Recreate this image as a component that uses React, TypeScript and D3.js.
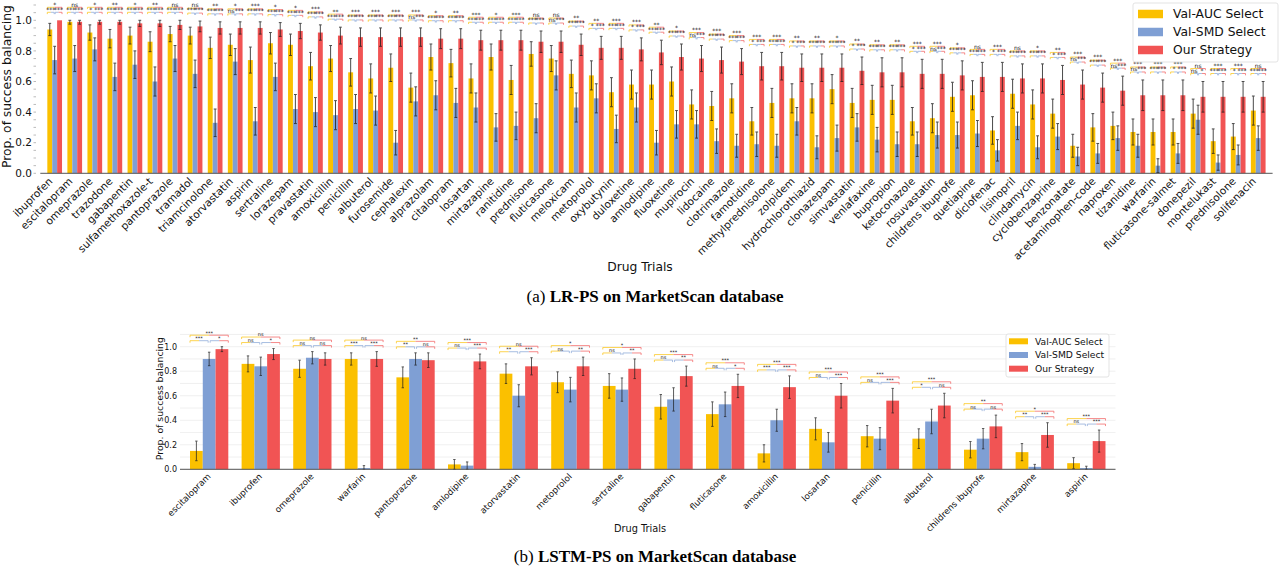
import React from "react";
import * as d3 from "d3";

const SERIES = ["Val-AUC Select", "Val-SMD Select", "Our Strategy"];
const COLORS = ["#fbc000", "#7f9fd4", "#f15454"];

// ---------- (a) LR-PS ----------
const lrDrugs = ["ibuprofen","escitalopram","omeprazole","trazodone","gabapentin","sulfamethoxazole-t","pantoprazole","tramadol","triamcinolone","atorvastatin","aspirin","sertraline","lorazepam","pravastatin","amoxicillin","penicillin","albuterol","furosemide","cephalexin","alprazolam","citalopram","losartan","mirtazapine","ranitidine","prednisone","fluticasone","meloxicam","metoprolol","oxybutynin","duloxetine","amlodipine","fluoxetine","mupirocin","lidocaine","clotrimazole","famotidine","methylprednisolone","zolpidem","hydrochlorothiazid","clonazepam","simvastatin","venlafaxine","bupropion","ketoconazole","rosuvastatin","childrens ibuprofe","quetiapine","diclofenac","lisinopril","clindamycin","cyclobenzaprine","benzonatate","acetaminophen-code","naproxen","tizanidine","warfarin","fluticasone-salmet","donepezil","montelukast","prednisolone","solifenacin"];
const lrAuc = [0.94,0.99,0.92,0.88,0.90,0.86,0.91,0.90,0.82,0.84,0.74,0.85,0.84,0.70,0.75,0.66,0.62,0.69,0.56,0.76,0.72,0.62,0.76,0.61,0.78,0.75,0.65,0.64,0.53,0.58,0.58,0.60,0.45,0.44,0.49,0.34,0.46,0.49,0.49,0.55,0.46,0.48,0.48,0.34,0.36,0.50,0.51,0.28,0.52,0.45,0.39,0.18,0.30,0.31,0.27,0.27,0.27,0.39,0.21,0.24,0.41];
const lrSmd = [0.74,0.75,0.81,0.63,0.71,0.60,0.75,0.65,0.33,0.73,0.34,0.63,0.42,0.40,0.38,0.42,0.41,0.20,0.47,0.51,0.46,0.43,0.30,0.31,0.36,0.64,0.43,0.49,0.29,0.43,0.20,0.32,0.32,0.21,0.18,0.19,0.18,0.34,0.17,0.23,0.30,0.22,0.19,0.19,0.25,0.25,0.26,0.15,0.31,0.17,0.24,0.11,0.13,0.23,0.18,0.05,0.13,0.35,0.07,0.12,0.23];
const lrOurs = [1.00,0.99,0.99,0.99,0.98,0.98,0.97,0.96,0.95,0.95,0.95,0.94,0.93,0.92,0.90,0.89,0.89,0.89,0.89,0.88,0.88,0.87,0.87,0.87,0.86,0.86,0.84,0.82,0.82,0.81,0.79,0.76,0.75,0.74,0.73,0.70,0.70,0.69,0.69,0.69,0.67,0.66,0.66,0.65,0.65,0.64,0.63,0.63,0.62,0.62,0.61,0.58,0.56,0.54,0.51,0.51,0.51,0.50,0.50,0.50,0.50];
const lrAucErr = [0.04,0.015,0.05,0.06,0.055,0.065,0.05,0.055,0.07,0.07,0.085,0.07,0.07,0.09,0.085,0.09,0.095,0.09,0.095,0.085,0.09,0.095,0.085,0.095,0.08,0.085,0.09,0.095,0.095,0.095,0.095,0.095,0.095,0.095,0.095,0.09,0.095,0.095,0.095,0.095,0.095,0.095,0.095,0.09,0.095,0.095,0.095,0.09,0.095,0.095,0.095,0.075,0.09,0.09,0.085,0.085,0.085,0.095,0.08,0.085,0.095];
const lrSmdErr = [0.09,0.085,0.075,0.09,0.09,0.095,0.085,0.09,0.09,0.085,0.09,0.09,0.095,0.095,0.095,0.095,0.095,0.08,0.095,0.095,0.095,0.095,0.09,0.09,0.095,0.095,0.095,0.095,0.09,0.095,0.08,0.09,0.09,0.08,0.075,0.08,0.075,0.09,0.075,0.085,0.09,0.08,0.08,0.08,0.085,0.085,0.085,0.07,0.09,0.075,0.085,0.06,0.065,0.08,0.075,0.045,0.065,0.095,0.05,0.065,0.08];
const lrOursErr = [0,0.015,0.015,0.015,0.02,0.02,0.03,0.035,0.04,0.04,0.04,0.045,0.05,0.05,0.055,0.06,0.06,0.06,0.06,0.065,0.065,0.065,0.065,0.065,0.07,0.07,0.07,0.075,0.075,0.075,0.08,0.085,0.085,0.085,0.085,0.09,0.09,0.09,0.09,0.09,0.09,0.095,0.095,0.095,0.095,0.095,0.095,0.095,0.095,0.095,0.095,0.095,0.095,0.095,0.1,0.1,0.1,0.1,0.1,0.1,0.1];
const lrSigTop = ["*","ns","*","**","*","**","ns","ns","**","*","***","*","*","***","**","***","***","***","***","*","**","***","*","***","ns","ns","**","**","***","***","**","*","***","***","***","***","***","**","**","*","**","**","**","***","***","*","ns","***","ns","*","**","***","***","***","***","***","***","ns","***","***","ns"];
const lrSigLeft = ["***","***","*","***","***","***","***","***","***","ns","***","***","***","***","***","***","***","***","ns","***","***","***","***","***","***","ns","***","*","***","*","***","***","ns","***","***","*","***","*","***","***","*","***","***","*","ns","***","***","*","***","***","*","ns","***","ns","ns","***","*","ns","***","*","***"];
const lrSigRight = ["***","***","***","***","***","***","***","***","***","***","***","***","***","***","***","***","***","***","***","***","***","***","***","***","***","***","***","***","***","***","***","***","***","***","***","***","***","***","***","***","***","***","***","***","***","***","***","***","***","***","***","***","***","***","***","***","***","*","***","***","***"];

// ---------- (b) LSTM-PS ----------
const lstmDrugs = ["escitalopram","ibuprofen","omeprazole","warfarin","pantoprazole","amlodipine","atorvastatin","metoprolol","sertraline","gabapentin","fluticasone","amoxicillin","losartan","penicillin","albuterol","childrens ibuprofe","mirtazapine","aspirin"];
const lstmAuc = [0.15,0.86,0.82,0.90,0.75,0.04,0.78,0.71,0.68,0.51,0.45,0.13,0.33,0.27,0.25,0.16,0.14,0.05];
const lstmSmd = [0.90,0.84,0.91,0.01,0.90,0.03,0.60,0.65,0.65,0.57,0.53,0.40,0.22,0.25,0.39,0.25,0.02,0.01];
const lstmOurs = [0.98,0.94,0.90,0.90,0.89,0.88,0.84,0.84,0.82,0.76,0.68,0.67,0.60,0.56,0.52,0.35,0.28,0.23];
const lstmAucErr = [0.08,0.065,0.07,0.05,0.085,0.04,0.08,0.085,0.1,0.1,0.1,0.07,0.09,0.087,0.08,0.067,0.07,0.045];
const lstmSmdErr = [0.055,0.075,0.05,0.02,0.05,0.03,0.09,0.1,0.095,0.095,0.1,0.09,0.08,0.09,0.1,0.083,0.02,0.015];
const lstmOursErr = [0.02,0.045,0.05,0.06,0.06,0.06,0.07,0.075,0.08,0.082,0.095,0.092,0.1,0.1,0.1,0.092,0.1,0.09];
const lstmSigTop = ["***","ns","ns","ns","**","***","ns","*","*","***","***","***","***","***","***","**","*","***"];
const lstmSigLeft = ["***","ns","ns","***","**","ns","**","ns","ns","ns","ns","***","ns","ns","*","ns","**","ns"];
const lstmSigRight = ["*","*","ns","***","ns","***","***","**","**","**","*","***","***","***","ns","ns","***","***"];

const yTicks = [0, 0.2, 0.4, 0.6, 0.8, 1.0];

const SANS = "DejaVu Sans, sans-serif";
const SERIF = "Liberation Serif, Times New Roman, serif";

type Cfg = {
  A: number; B: number; pIn: number; pOut: number;
  yZero: number; yOne: number; axTop: number;
  tickFont: number; tickX: number;
  xlFont: number; xlDx: number; xlY: number;
  ylFont: number; ylX: number;
  sigFont: number; lowGap: number; topGap: number; tickH: number; brGap: number;
  capW: number; errW: number;
  grid: boolean; minor: boolean;
  xTitleX: number; xTitleY: number; xTitleFont: number;
  legend: { x: number; y: number; w: number; h: number; px: number; pw: number; ph: number; ys: number[]; tx: number; font: number };
  caption: { y: number; label: string; title: string; font: number };
};

function Chart({ cfg, drugs, vals, errs, sigs }: { cfg: Cfg; drugs: string[]; vals: number[][]; errs: number[][]; sigs: string[][] }) {
  const x = d3.scaleBand<string>().domain(drugs).range([cfg.A, cfg.B]).paddingInner(cfg.pIn).paddingOuter(cfg.pOut);
  const xs = d3.scaleBand<number>().domain([0, 1, 2]).range([0, x.bandwidth()]);
  const y = d3.scaleLinear().domain([0, 1]).range([cfg.yZero, cfg.yOne]);
  const bw = xs.bandwidth();
  const minorTicks = d3.range(0, 1.101, 0.05);
  const gridTicks = d3.range(0, 1.101, 0.1);
  const midY = (cfg.axTop + cfg.yZero) / 2;

  const bracket = (xa: number, xb: number, yy: number, ca: string, cb: string, key: string) => {
    const m = (xa + xb) / 2;
    return (
      <g key={key} fill="none" strokeWidth={0.8} opacity={0.85}>
        <path d={`M${xa},${yy + cfg.tickH}L${xa},${yy}L${m},${yy}`} stroke={ca} />
        <path d={`M${m},${yy}L${xb},${yy}L${xb},${yy + cfg.tickH}`} stroke={cb} />
      </g>
    );
  };

  return (
    <g>
      {cfg.grid && gridTicks.map((t) => (
        <line key={"g" + t} x1={cfg.A} x2={cfg.B} y1={y(t)} y2={y(t)} stroke="#ececec" strokeWidth={0.8} />
      ))}
      {cfg.minor && minorTicks.map((t) => (
        <line key={"m" + t} x1={cfg.tickX + 1.5} x2={cfg.tickX + 4} y1={y(t)} y2={y(t)} stroke="#aaa" strokeWidth={0.8} />
      ))}
      {drugs.map((d, i) => (
        <g key={d} transform={`translate(${x(d)},0)`}>
          {[0, 1, 2].map((s) => (
            <rect key={s} x={xs(s)} y={y(vals[s][i])} width={bw} height={cfg.yZero - y(vals[s][i])} fill={COLORS[s]} />
          ))}
          {[0, 1, 2].map((s) => {
            const cx = (xs(s) as number) + bw / 2;
            const lo = Math.max(0, vals[s][i] - errs[s][i]);
            const hi = Math.min(1, vals[s][i] + errs[s][i]);
            if (hi - lo < 0.001) return null;
            return (
              <g key={"e" + s} stroke="#1e1e1e" strokeWidth={cfg.errW} opacity={0.8}>
                <line x1={cx} x2={cx} y1={y(lo)} y2={y(hi)} />
                <line x1={cx - cfg.capW} x2={cx + cfg.capW} y1={y(hi)} y2={y(hi)} />
                <line x1={cx - cfg.capW} x2={cx + cfg.capW} y1={y(lo)} y2={y(lo)} />
              </g>
            );
          })}
        </g>
      ))}
      {drugs.map((d, i) => {
        const g0 = x(d) as number;
        const bc = g0 + 1.5 * bw;
        const rr = g0 + 3 * bw;
        const errTop = Math.min(...[0, 1, 2].map((s) => y(Math.min(1, vals[s][i] + errs[s][i]))));
        const lowY = errTop - cfg.lowGap;
        const topY = lowY - cfg.topGap;
        const lA = g0, lB = bc - cfg.brGap / 2, rA = bc + cfg.brGap / 2, rB = rr;
        return (
          <g key={"s" + d}>
            {bracket(g0, rr, topY, COLORS[0], COLORS[2], "t")}
            {bracket(lA, lB, lowY, COLORS[0], COLORS[1], "l")}
            {bracket(rA, rB, lowY, COLORS[1], COLORS[2], "r")}
            <g fontFamily={SANS} fontSize={cfg.sigFont} fill="#111" textAnchor="middle">
              <text x={bc} y={topY - 0.6}>{sigs[0][i]}</text>
              <text x={(lA + lB) / 2} y={lowY - 0.6}>{sigs[1][i]}</text>
              <text x={(rA + rB) / 2} y={lowY - 0.6}>{sigs[2][i]}</text>
            </g>
          </g>
        );
      })}
      <line x1={cfg.A} x2={cfg.B} y1={cfg.yZero} y2={cfg.yZero} stroke="#555" strokeWidth={1} />
      {drugs.map((d) => {
        const cx = (x(d) as number) + x.bandwidth() / 2 + cfg.xlDx;
        return (
          <text key={"xl" + d} transform={`translate(${cx},${cfg.xlY}) rotate(-45)`} textAnchor="end" fontFamily={SANS} fontSize={cfg.xlFont} fill="#111">{d}</text>
        );
      })}
      {yTicks.map((t) => (
        <text key={"yt" + t} x={cfg.tickX} y={y(t)} dy="0.36em" textAnchor="end" fontFamily={SANS} fontSize={cfg.tickFont} fill="#111">{t.toFixed(1)}</text>
      ))}
      <text transform={`translate(${cfg.ylX},${midY}) rotate(-90)`} textAnchor="middle" fontFamily={SANS} fontSize={cfg.ylFont} fill="#111">Prop. of success balancing</text>
      <text x={cfg.xTitleX} y={cfg.xTitleY} textAnchor="middle" fontFamily={SANS} fontSize={cfg.xTitleFont} fill="#111">Drug Trials</text>
      <rect x={cfg.legend.x} y={cfg.legend.y} width={cfg.legend.w} height={cfg.legend.h} rx={2} fill="#fff" fillOpacity={0.85} stroke="#dcdcdc" strokeWidth={0.8} />
      {SERIES.map((s, k) => (
        <g key={s}>
          <rect x={cfg.legend.px} y={cfg.legend.ys[k] - cfg.legend.ph / 2} width={cfg.legend.pw} height={cfg.legend.ph} fill={COLORS[k]} />
          <text x={cfg.legend.tx} y={cfg.legend.ys[k]} dy="0.36em" fontFamily={SANS} fontSize={cfg.legend.font} fill="#111">{s}</text>
        </g>
      ))}
      <text x={655} y={cfg.caption.y} textAnchor="middle" fontFamily={SERIF} fontSize={cfg.caption.font} fill="#000">
        <tspan>{cfg.caption.label} </tspan>
        <tspan fontWeight="bold">{cfg.caption.title}</tspan>
      </text>
    </g>
  );
}

const topCfg: Cfg = {
  A: 40.3, B: 1272.6, pIn: 0.267, pOut: 0.35,
  yZero: 173.3, yOne: 20.3, axTop: 0,
  tickFont: 10.5, tickX: 32,
  xlFont: 10.5, xlDx: -1.5, xlY: 182,
  ylFont: 12.3, ylX: 11,
  sigFont: 6, lowGap: 8, topGap: 5, tickH: 1.8, brGap: 1,
  capW: 1.4, errW: 1,
  grid: false, minor: true,
  xTitleX: 640, xTitleY: 271, xTitleFont: 12.3,
  legend: { x: 1133, y: 3, w: 145, h: 59, px: 1138, pw: 25, ph: 8.5, ys: [14, 32, 50], tx: 1173, font: 12.3 },
  caption: { y: 302, label: "(a)", title: "LR-PS on MarketScan database", font: 17 },
};

const botCfg: Cfg = {
  A: 180, B: 1115.5, pIn: 0.258, pOut: 0.194,
  yZero: 469.3, yOne: 346.7, axTop: 328,
  tickFont: 8, tickX: 177,
  xlFont: 8.7, xlDx: 2, xlY: 477,
  ylFont: 9.3, ylX: 163,
  sigFont: 5, lowGap: 6, topGap: 5.5, tickH: 2, brGap: 2,
  capW: 1.2, errW: 0.9,
  grid: true, minor: false,
  xTitleX: 640, xTitleY: 532, xTitleFont: 9.8,
  legend: { x: 1006, y: 334, w: 103, h: 43, px: 1009, pw: 19, ph: 6, ys: [341.3, 355, 368.7], tx: 1035, font: 9.2 },
  caption: { y: 562, label: "(b)", title: "LSTM-PS on MarketScan database", font: 17 },
};

export default function App() {
  return (
    <svg width={1280} height={567} viewBox="0 0 1280 567" style={{ position: "absolute", left: 0, top: 0, background: "#fff", display: "block" }}>
      <rect width={1280} height={567} fill="#fff" />
      <Chart cfg={topCfg} drugs={lrDrugs} vals={[lrAuc, lrSmd, lrOurs]} errs={[lrAucErr, lrSmdErr, lrOursErr]} sigs={[lrSigTop, lrSigLeft, lrSigRight]} />
      <Chart cfg={botCfg} drugs={lstmDrugs} vals={[lstmAuc, lstmSmd, lstmOurs]} errs={[lstmAucErr, lstmSmdErr, lstmOursErr]} sigs={[lstmSigTop, lstmSigLeft, lstmSigRight]} />
    </svg>
  );
}
